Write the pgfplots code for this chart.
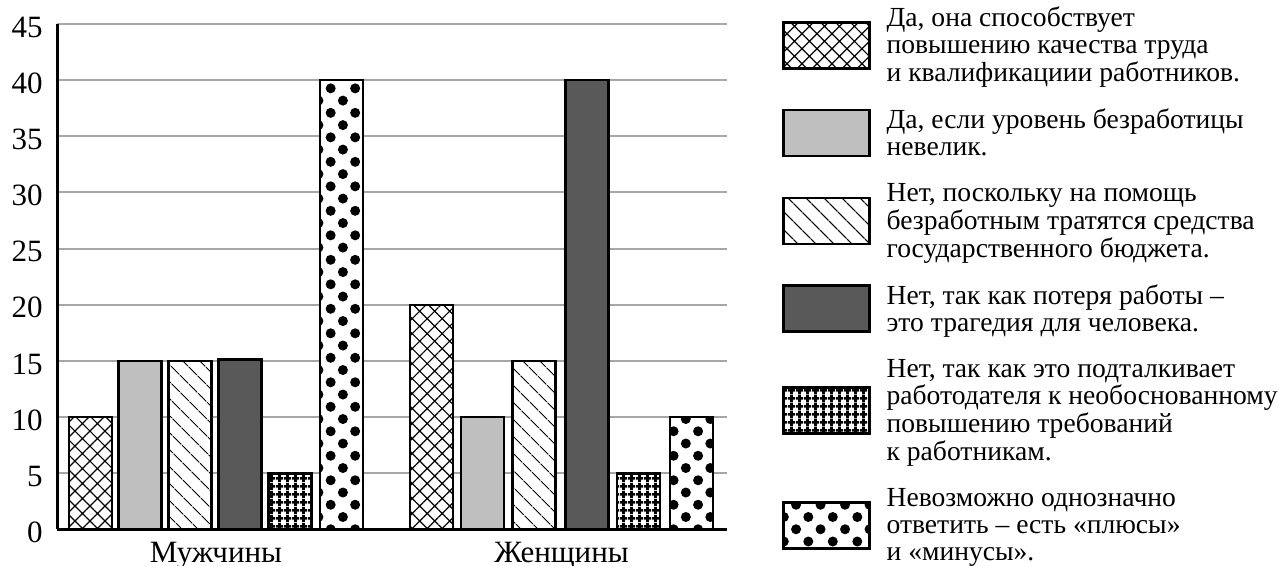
\documentclass[border=0pt]{standalone}
\usepackage{fontspec}
\setmainfont{Liberation Serif}
\usepackage{pgfplots}
\pgfplotsset{compat=1.18}
\usetikzlibrary{patterns.meta}
\definecolor{lgray}{HTML}{BFBFBF}
\definecolor{dgray}{HTML}{595959}
\definecolor{ggray}{HTML}{A6A6A6}
\pgfplotsset{
  /pgfplots/ybar legend/.style={
    /pgfplots/legend image code/.code={%
      \draw[##1,/tikz/.cd,line width=1.3pt] (0pt,-10pt) rectangle (43pt,13pt);},
  },
}
\newcommand{\lgt}[1]{\begin{tabular}{@{}l@{}}#1\end{tabular}}
\begin{document}
\begin{tikzpicture}
\useasboundingbox (-28.5pt,-18.25pt) rectangle (611pt,264.75pt);
\begin{axis}[
  scale only axis, width=335pt, height=252.75pt,
  xmin=57, xmax=727, ymin=0, ymax=45,
  axis lines=left,
  axis line style={-, line width=1.5pt, black},
  ybar,
  every axis plot post/.append style={bar width=43, bar shift=0pt, draw=black, line width=1.3pt},
  major tick length=0pt,
  ytick={0,5,...,45},
  xtick={216,561.5},
  xticklabels={Мужчины,Женщины},
  ymajorgrids,
  grid style={ggray, line width=1pt},
  /pgf/number format/assume math mode=true,
  yticklabel style={font=\fontsize{15.5}{16}\selectfont, inner sep=0pt, xshift=-7pt, yshift=-1.5pt},
  xticklabel style={font=\fontsize{15.5}{16}\selectfont, inner sep=0pt, yshift=-6pt},
  legend cell align=left,
  legend style={draw=none, fill=none, at={(1.0821,1.0336)}, anchor=north west,
    inner sep=0pt, outer sep=0pt, row sep=9.5pt,
    font=\fontsize{13.8}{13.5}\selectfont,
    nodes={inner sep=0pt, text depth=},
    /tikz/every odd column/.append style={column sep=8pt}},
]
\addplot[fill=white, postaction={pattern={Hatch[angle=45,distance=5.3pt,line width=0.6pt]}}]
  coordinates {(90.5,10) (431.5,20)};
\addlegendentry{\lgt{Да, она способствует\\повышению качества труда\\и квалификациии работников.}}
\addplot[fill=lgray]
  coordinates {(140,15) (482.5,10)};
\addlegendentry{\lgt{Да, если уровень безработицы\\невелик.}}
\addplot[fill=white, postaction={pattern={Lines[angle=-45,distance=6.5pt,line width=0.6pt]}}]
  coordinates {(190,15) (534,15)};
\addlegendentry{\lgt{Нет, поскольку на помощь\\безработным тратятся средства\\государственного бюджета.}}
\addplot[fill=dgray]
  coordinates {(240,15.15) (587,40)};
\addlegendentry{\lgt{Нет, так как потеря работы –\\это трагедия для человека.}}
\addplot[fill=white, postaction={pattern={Hatch[angle=0,distance=4pt,line width=1.5pt]}}]
  coordinates {(290,5) (638.5,5)};
\addlegendentry{\lgt{Нет, так как это подталкивает\\работодателя к необоснованному\\повышению требований\\к работникам.}}
\addplot[fill=white, postaction={pattern={Dots[angle=45,distance=8.66pt,radius=2.5pt]}}]
  coordinates {(341.5,40) (691.5,10)};
\addlegendentry{\lgt{Невозможно однозначно\\ответить – есть «плюсы»\\и «минусы».}}
\end{axis}
\end{tikzpicture}
\end{document}
